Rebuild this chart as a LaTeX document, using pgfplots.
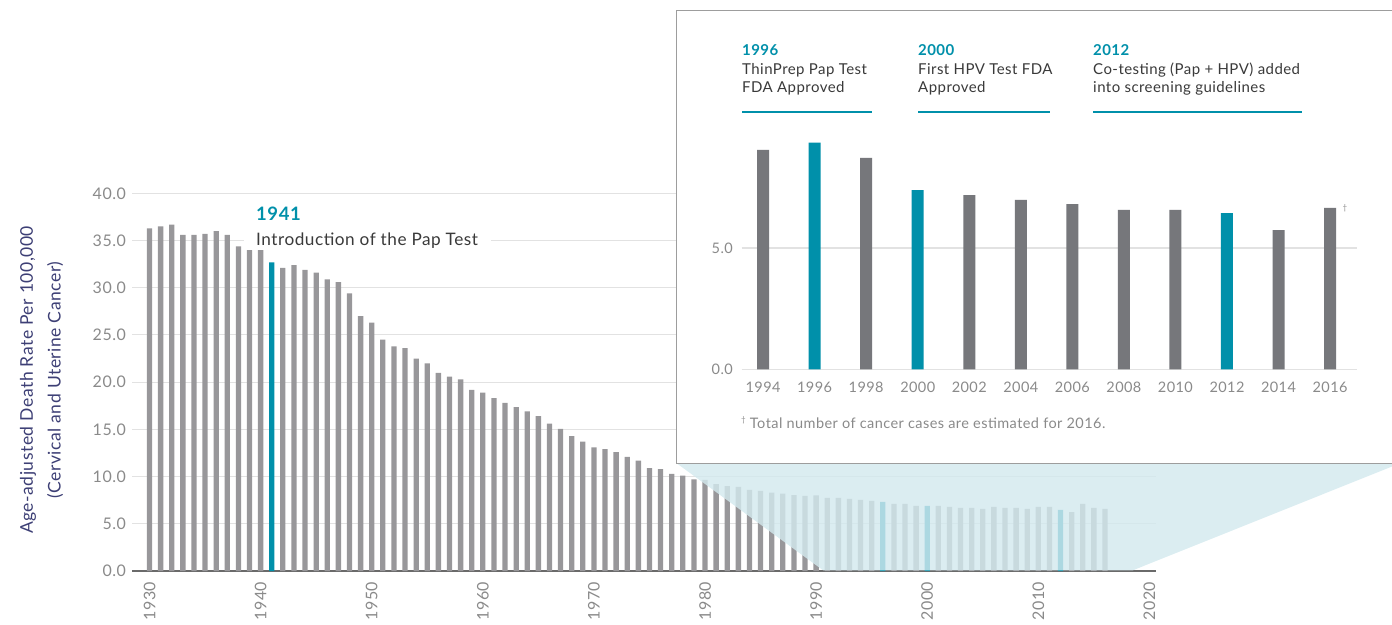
\documentclass[border=0pt]{standalone}
\usepackage{fontspec}
\setmainfont{Lato}[LetterSpace=3]
\usepackage{pgfplots}
\pgfplotsset{compat=1.18}
\definecolor{bargray}{HTML}{98979A}
\definecolor{insetgray}{HTML}{76777B}
\definecolor{tealc}{HTML}{0090AA}
\definecolor{tickgray}{HTML}{8A8A8A}
\definecolor{gridgray}{HTML}{E2E2E2}
\definecolor{axisgray}{HTML}{6A6A6A}
\definecolor{boxgray}{HTML}{9D9D9D}
\definecolor{textdark}{HTML}{3A3A3A}
\definecolor{navy}{HTML}{3D3F75}
\definecolor{ovcol}{HTML}{D3E9EE}
\begin{document}
\begin{tikzpicture}[x=1pt,y=1pt]
\path[use as bounding box] (0,0) rectangle (1392,624);
% ---------------- main axis
\begin{axis}[
  at={(132.3pt,53pt)}, anchor=south west, scale only axis,
  x=11.11pt, y=9.44pt,
  xmin=1928.45, xmax=2020.6, ymin=0, ymax=40,
  clip=false,
  axis x line*=bottom, axis y line*=left,
  axis line style={-},
  y axis line style={draw=none},
  x axis line style={draw=axisgray, line width=1.5pt},
  tick style={draw=none},
  ymajorgrids, grid style={draw=gridgray, line width=1pt},
  ytick={0,5,...,40},
  yticklabels={0.0,5.0,10.0,15.0,20.0,25.0,30.0,35.0,40.0},
  yticklabel style={anchor=east, inner sep=0pt, text=tickgray, font=\fontsize{16}{16}\selectfont},
  yticklabel shift=6.3pt,
  xtick={1930,1940,...,2020},
  xticklabels={1930,1940,1950,1960,1970,1980,1990,2000,2010,2020},
  xticklabel style={rotate=90, anchor=east, inner sep=0pt, text=tickgray, font=\fontsize{16}{16}\selectfont},
  xticklabel shift=10.7pt,
]
\addplot[ybar, bar width=5.3pt, bar shift=0pt, fill=bargray, draw=none] coordinates {
(1930,36.3) (1931,36.5) (1932,36.7) (1933,35.6) (1934,35.6) (1935,35.7) (1936,36.0) (1937,35.6) (1938,34.4) (1939,34.0)
(1940,34.0) (1942,32.1) (1943,32.4) (1944,31.9) (1945,31.6) (1946,30.9) (1947,30.6) (1948,29.4) (1949,27.0)
(1950,26.3) (1951,24.5) (1952,23.8) (1953,23.6) (1954,22.5) (1955,22.0) (1956,21.0) (1957,20.6) (1958,20.3) (1959,19.2)
(1960,18.9) (1961,18.3) (1962,17.8) (1963,17.35) (1964,16.9) (1965,16.4) (1966,15.6) (1967,15.05) (1968,14.3) (1969,13.7)
(1970,13.1) (1971,12.9) (1972,12.6) (1973,12.1) (1974,11.7) (1975,10.9) (1976,10.8) (1977,10.3) (1978,10.1) (1979,9.7)
(1980,9.65) (1981,9.2) (1982,9.0) (1983,8.9) (1984,8.6) (1985,8.5) (1986,8.3) (1987,8.2) (1988,8.05) (1989,7.95)
(1990,8.0) (1991,7.74) (1992,7.74) (1993,7.63) (1994,7.53) (1995,7.42) (1997,7.1) (1998,7.1) (1999,6.9)
(2001,6.9) (2002,6.8) (2003,6.7) (2004,6.7) (2005,6.57) (2006,6.8) (2007,6.7) (2008,6.7) (2009,6.57)
(2010,6.8) (2011,6.8) (2013,6.25) (2014,7.1) (2015,6.7) (2016,6.57)
};
\addplot[ybar, bar width=5.3pt, bar shift=0pt, fill=tealc, draw=none] coordinates {
(1941,32.7) (1996,7.31) (2000,6.9) (2012,6.47)
};
\fill[white] (axis cs:1938.5,34.72) rectangle (axis cs:1960.7,35.28);
\end{axis}
% annotation
\node[anchor=west, inner sep=0pt, text=tealc, font=\bfseries\fontsize{18.5}{20}\selectfont] at (256,410) {1941};
\node[anchor=base west, inner sep=0pt, text=textdark, font=\fontsize{17.2}{20}\selectfont] at (256,378.7) {Introduction of the Pap Test};
% y label
\node[rotate=90, text=navy, font=\fontsize{17.5}{18}\selectfont] at (28,244) {Age-adjusted Death Rate Per 100,000};
\node[rotate=90, text=navy, font=\fontsize{17.5}{18}\selectfont] at (55,244) {(Cervical and Uterine Cancer)};
% overlay
\fill[ovcol, opacity=0.82] (676.7,160.7) -- (823,53.75) -- (1133,53.75) -- (1400,160.7) -- cycle;
% inset box
\draw[fill=white, draw=boxgray, line width=1.5pt] (676.7,160.7) rectangle (1420,613.3);
% ---------------- inset axis
\begin{axis}[
  at={(741.7pt,254.7pt)}, anchor=south west, scale only axis,
  x=25.77pt, y=24.26pt,
  xmin=1993.17, xmax=2017.04, ymin=0, ymax=9.6,
  clip=false,
  axis line style={draw=none},
  tick style={draw=none},
  ymajorgrids, grid style={draw=gridgray, line width=1.5pt},
  ytick={0,5}, yticklabels={0.0,5.0},
  yticklabel style={anchor=east, inner sep=0pt, text=tickgray, font=\fontsize{14.5}{15}\selectfont},
  yticklabel shift=8.7pt,
  xtick={1994,1996,...,2016},
  xticklabels={1994,1996,1998,2000,2002,2004,2006,2008,2010,2012,2014,2016},
  xticklabel style={anchor=north, inner sep=0pt, text=tickgray, font=\fontsize{14.5}{15}\selectfont},
  xticklabel shift=12.7pt,
]
\addplot[ybar, bar width=12pt, bar shift=0pt, fill=insetgray, draw=none] coordinates {
(1994,9.04) (1998,8.71) (2002,7.18) (2004,6.98) (2006,6.81) (2008,6.57) (2010,6.57) (2014,5.74) (2016,6.65)
};
\addplot[ybar, bar width=12pt, bar shift=0pt, fill=tealc, draw=none] coordinates {
(1996,9.34) (2000,7.39) (2012,6.44)
};
\end{axis}
% dagger
\node[text=tickgray, inner sep=0pt, font=\fontsize{8}{8}\selectfont] at (1345,416) {†};
% footnote
\node[anchor=base west, inner sep=0pt, text=tickgray, font=\fontsize{14.5}{16}\selectfont] at (741,195) {\raisebox{0.45em}{\fontsize{8}{8}\selectfont †} Total number of cancer cases are estimated for 2016.};
% header
\begin{scope}[every node/.style={anchor=base west, inner sep=0pt}]
\node[text=tealc, font=\bfseries\fontsize{15}{16}\selectfont] at (742,568.5) {1996};
\node[text=textdark, font=\fontsize{15}{16}\selectfont] at (742,549.5) {ThinPrep Pap Test};
\node[text=textdark, font=\fontsize{15}{16}\selectfont] at (742,531) {FDA Approved};
\node[text=tealc, font=\bfseries\fontsize{15}{16}\selectfont] at (918,568.5) {2000};
\node[text=textdark, font=\fontsize{15}{16}\selectfont] at (918,549.5) {First HPV Test FDA};
\node[text=textdark, font=\fontsize{15}{16}\selectfont] at (918,531) {Approved};
\node[text=tealc, font=\bfseries\fontsize{15}{16}\selectfont] at (1093,568.5) {2012};
\node[text=textdark, font=\fontsize{15}{16}\selectfont] at (1093,549.5) {Co-testing (Pap + HPV) added};
\node[text=textdark, font=\fontsize{15}{16}\selectfont] at (1093,531) {into screening guidelines};
\end{scope}
\draw[tealc, line width=2pt] (742,511.7) -- (872,511.7);
\draw[tealc, line width=2pt] (918,511.7) -- (1050,511.7);
\draw[tealc, line width=2pt] (1093,511.7) -- (1302,511.7);
\end{tikzpicture}
\end{document}
